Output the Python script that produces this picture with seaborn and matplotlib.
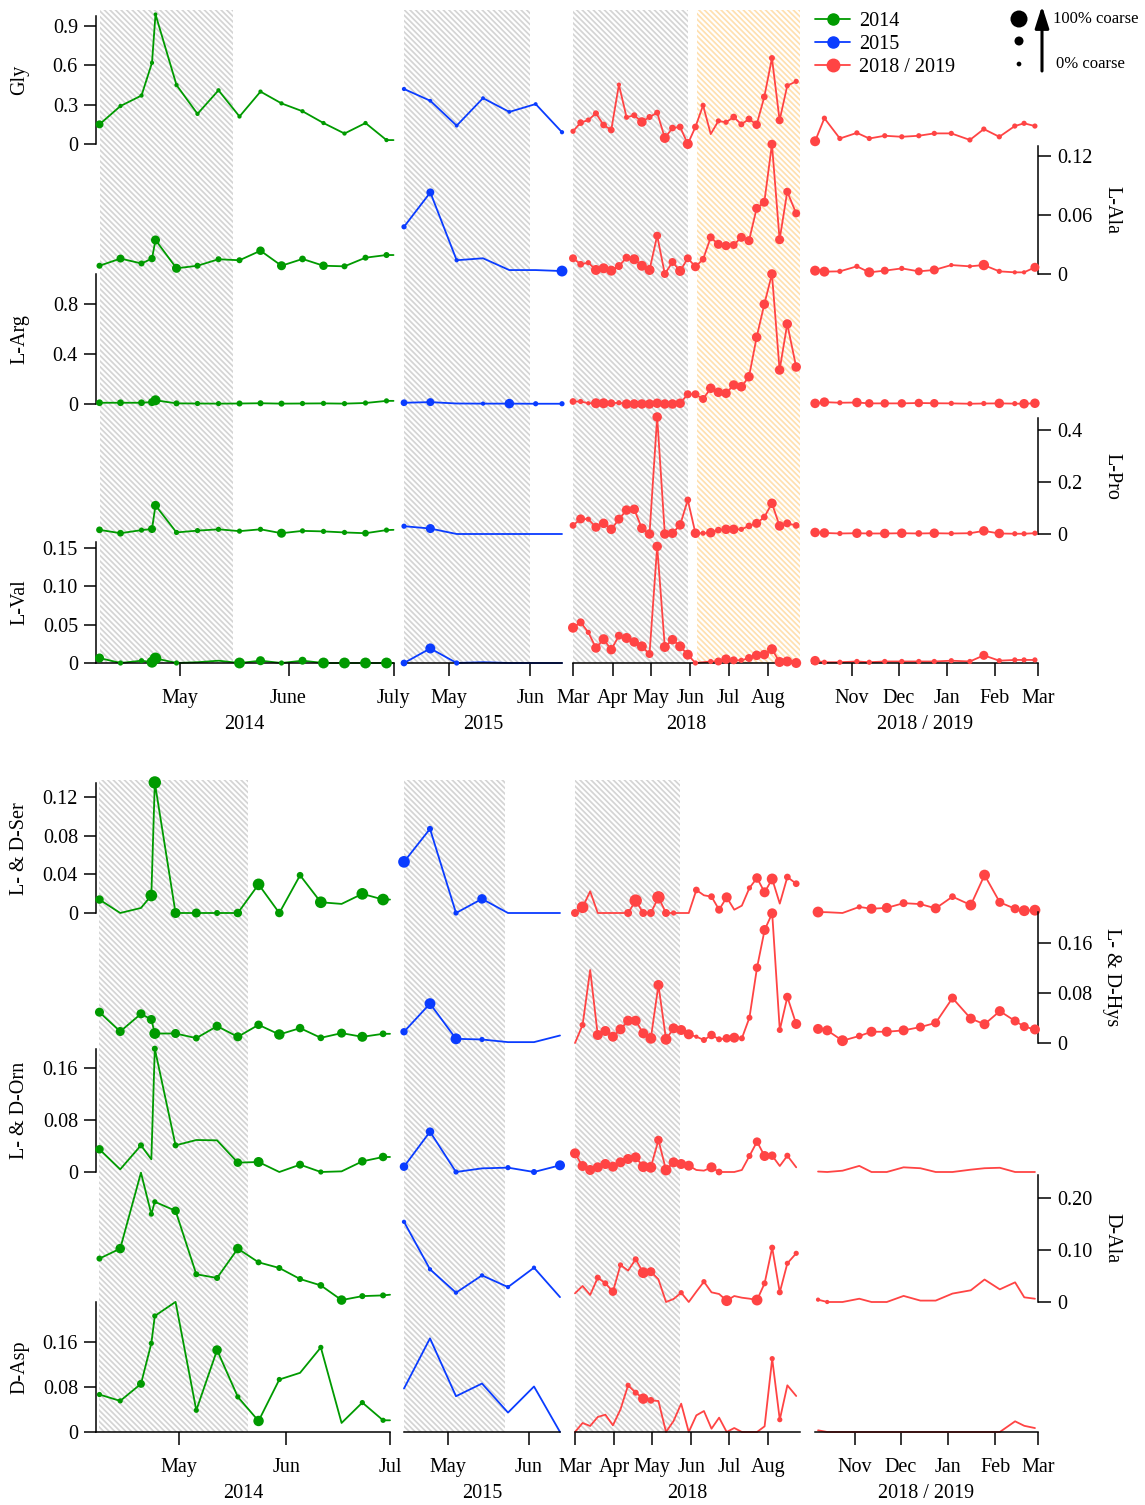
import numpy as np
import pandas as pd
import matplotlib
matplotlib.use('Agg')
import matplotlib.pyplot as plt
import matplotlib.dates as mdates
from matplotlib.lines import Line2D
import seaborn as sns

nan = np.nan

# ---------------- sampling dates ----------------
dates_14 = ['2014-04-08', '2014-04-14', '2014-04-20', '2014-04-23', '2014-04-24', '2014-04-30',
            '2014-05-06', '2014-05-12', '2014-05-18', '2014-05-24', '2014-05-30', '2014-06-05',
            '2014-06-11', '2014-06-17', '2014-06-23', '2014-06-29', '2014-07-01']
dates_15 = ['2015-04-14', '2015-04-24', '2015-05-04', '2015-05-14', '2015-05-24', '2015-06-03', '2015-06-13']
dates_18 = ['2018-03-01', '2018-03-07', '2018-03-13', '2018-03-19', '2018-03-25', '2018-03-31',
            '2018-04-06', '2018-04-12', '2018-04-18', '2018-04-24', '2018-04-30', '2018-05-06',
            '2018-05-12', '2018-05-18', '2018-05-24', '2018-05-30', '2018-06-05', '2018-06-11',
            '2018-06-17', '2018-06-23', '2018-06-29', '2018-07-05', '2018-07-11', '2018-07-17',
            '2018-07-23', '2018-07-29', '2018-08-04', '2018-08-10', '2018-08-16', '2018-08-23']
dates_19 = ['2018-10-08', '2018-10-14', '2018-10-24', '2018-11-04', '2018-11-12', '2018-11-22',
            '2018-12-03', '2018-12-14', '2018-12-24', '2019-01-04', '2019-01-16', '2019-01-25',
            '2019-02-04', '2019-02-14', '2019-02-20', '2019-02-27']

# ---------------- values (suffix c = coarse fraction, drives marker size) ----------------
gly_14 = [0.15, 0.29, 0.37, 0.62, 0.99, 0.45, 0.23, 0.41, 0.21, 0.40, 0.31, 0.25, 0.16, 0.08, 0.16, 0.03, 0.03]
gly_14c = [0.3, 0.05, 0.05, 0.05, 0.03, 0.05, 0.05, 0.05, 0.05, 0.05, 0.05, 0.05, 0.05, 0.05, 0.05, 0.05, nan]
gly_15 = [0.42, 0.33, 0.14, 0.35, 0.245, 0.305, 0.09]
gly_15c = [0.05, 0.03, 0.03, 0.03, 0.03, 0.03, 0.05]
gly_18 = [0.097, 0.163, 0.183, 0.234, 0.145, 0.107, 0.453, 0.204, 0.219, 0.168, 0.206, 0.239, 0.046, 0.122, 0.13,
          0.0, 0.13, 0.295, 0.076, 0.176, 0.166, 0.206, 0.15, 0.191, 0.147, 0.36, 0.656, 0.181, 0.445, 0.478]
gly_18c = [0.1, 0.2, 0.1, 0.15, 0.2, 0.2, 0.05, 0.1, 0.15, 0.45, 0.15, 0.15, 0.5, 0.2, 0.2,
           0.5, 0.2, 0.1, nan, 0.1, 0.1, 0.2, 0.15, 0.2, 0.35, 0.2, 0.15, 0.3, 0.1, 0.1]
gly_19 = [0.021, 0.197, 0.042, 0.085, 0.042, 0.063, 0.055, 0.063, 0.081, 0.081, 0.031, 0.114, 0.055, 0.137, 0.158, 0.137]
gly_19c = [0.5, 0.1, 0.1, 0.1, 0.1, 0.1, 0.1, 0.1, 0.1, 0.1, 0.1, 0.1, 0.1, 0.1, 0.1, 0.1]

ala_14 = [0.0084, 0.0157, 0.0107, 0.0157, 0.0346, 0.0058, 0.0084, 0.015, 0.014, 0.0237, 0.0084, 0.0153,
          0.0084, 0.0078, 0.0166, 0.0193, 0.0193]
ala_14c = [0.15, 0.3, 0.15, 0.25, 0.4, 0.4, 0.15, 0.15, 0.15, 0.35, 0.4, 0.2, 0.35, 0.15, 0.15, 0.15, nan]
ala_15 = [0.048, 0.083, 0.014, 0.016, 0.004, 0.004, 0.003]
ala_15c = [0.1, 0.3, 0.05, nan, nan, nan, 0.6]
ala_18 = [0.016, 0.0099, 0.0115, 0.0041, 0.0058, 0.0034, 0.0081, 0.0166, 0.015, 0.0084, 0.0041, 0.039, 0.0,
          0.0122, 0.0031, 0.016, 0.0074, 0.015, 0.0373, 0.0302, 0.0288, 0.0295, 0.0373, 0.0339, 0.0668, 0.073,
          0.132, 0.0349, 0.0837, 0.0617]
ala_18c = [0.3, 0.2, 0.1, 0.5, 0.5, 0.5, 0.3, 0.3, 0.5, 0.5, 0.5, 0.3, 0.3, 0.3, 0.5,
           0.3, 0.4, 0.2, 0.3, 0.4, 0.4, 0.3, 0.4, 0.4, 0.4, 0.4, 0.4, 0.4, 0.3, 0.3]
ala_19 = [0.0034, 0.0024, 0.0027, 0.0078, 0.0017, 0.0034, 0.0057, 0.0027, 0.0041, 0.0091, 0.0078, 0.0091,
          0.0027, 0.0017, 0.0017, 0.0068]
ala_19c = [0.5, 0.5, 0.1, 0.1, 0.5, 0.3, 0.1, 0.3, 0.4, 0.05, 0.05, 0.55, 0.1, 0.05, 0.05, 0.4]

arg_14 = [0.01, 0.01, 0.01, 0.015, 0.03, 0.005, 0.004, 0.003, 0.004, 0.006, 0.003, 0.004, 0.005, 0.003, 0.008, 0.025, 0.025]
arg_14c = [0.2, 0.2, 0.2, 0.3, 0.5, 0.15, 0.1, 0.1, 0.15, 0.15, 0.15, 0.1, 0.1, 0.1, 0.1, 0.1, nan]
arg_15 = [0.01, 0.015, 0.004, 0.003, 0.003, 0.002, 0.002]
arg_15c = [0.2, 0.3, nan, 0.05, 0.45, 0.1, 0.1]
arg_18 = [0.02, 0.02, 0.006, 0.006, 0.006, 0.006, 0.01, 0.0, 0.0, 0.0, 0.0, 0.006, 0.0, 0.0, 0.006,
          0.078, 0.078, 0.04, 0.126, 0.094, 0.086, 0.152, 0.138, 0.218, 0.534, 0.798, 1.04, 0.272, 0.64, 0.296]
arg_18c = [0.2, 0.1, 0.05, 0.5, 0.5, 0.3, 0.1, 0.45, 0.45, 0.45, 0.45, 0.45, 0.45, 0.45, 0.45,
           0.3, 0.3, 0.3, 0.45, 0.45, 0.45, 0.45, 0.45, 0.45, 0.45, 0.45, 0.45, 0.45, 0.45, 0.45]
arg_19 = [0.005, 0.015, 0.01, 0.012, 0.005, 0.005, 0.005, 0.008, 0.006, 0.005, 0.002, 0.004, 0.005, 0.003, 0.002, 0.006]
arg_19c = [0.45, 0.45, 0.1, 0.45, 0.35, 0.35, 0.35, 0.35, 0.35, 0.1, 0.1, 0.1, 0.45, 0.1, 0.45, 0.45]

pro_14 = [0.016, 0.003, 0.015, 0.019, 0.11, 0.006, 0.013, 0.018, 0.011, 0.018, 0.003, 0.012, 0.010, 0.006, 0.003, 0.015, 0.016]
pro_14c = [0.2, 0.2, 0.1, 0.3, 0.4, 0.1, 0.1, 0.1, 0.1, 0.1, 0.4, 0.1, 0.1, 0.1, 0.2, 0.1, nan]
pro_15 = [0.03, 0.021, 0.0, 0.0, 0.0, 0.0, 0.0]
pro_15c = [0.1, 0.4, nan, nan, nan, nan, nan]
pro_18 = [0.033, 0.058, 0.057, 0.026, 0.041, 0.018, 0.057, 0.092, 0.095, 0.022, 0.0, 0.45, 0.0, 0.003, 0.035,
          0.131, 0.003, 0.003, 0.005, 0.015, 0.018, 0.018, 0.018, 0.031, 0.041, 0.065, 0.118, 0.031, 0.041, 0.033]
pro_18c = [0.2, 0.4, 0.1, 0.4, 0.45, 0.45, 0.4, 0.45, 0.45, 0.45, 0.45, 0.45, 0.45, 0.45, 0.45,
           0.2, 0.45, 0.1, 0.45, 0.2, 0.45, 0.45, 0.1, 0.2, 0.4, 0.2, 0.45, 0.45, 0.3, 0.2]
pro_19 = [0.006, 0.004, 0.002, 0.003, 0.002, 0.002, 0.003, 0.002, 0.003, 0.002, 0.003, 0.012, 0.002, 0.001, 0.001, 0.003]
pro_19c = [0.45, 0.45, 0.1, 0.45, 0.2, 0.45, 0.45, 0.2, 0.45, 0.1, 0.1, 0.45, 0.45, 0.1, 0.1, 0.1]

val_14 = [0.0065, 0.0, 0.003, 0.001, 0.006, 0.0, 0.001, 0.003, 0.0, 0.003, 0.0, 0.003, 0.0, 0.0, 0.0, 0.0, 0.0]
val_14c = [0.4, 0.1, 0.1, 0.6, 0.7, 0.1, nan, nan, 0.6, 0.4, 0.1, 0.3, 0.6, 0.6, 0.6, 0.6, nan]
val_15 = [0.0, 0.019, 0.0, 0.001, 0.0, 0.0, 0.0]
val_15c = [0.2, 0.5, 0.1, nan, nan, nan, nan]
val_18 = [0.046, 0.053, 0.040, 0.0196, 0.031, 0.0174, 0.0356, 0.0326, 0.0274, 0.0217, 0.0117, 0.152, 0.0209,
          0.0304, 0.0217, 0.0109, 0.0, 0.001, 0.002, 0.002, 0.005, 0.0035, 0.0035, 0.0065, 0.01, 0.011, 0.018,
          0.0013, 0.002, 0.0]
val_18c = [0.5, 0.3, 0.1, 0.45, 0.5, 0.45, 0.3, 0.5, 0.45, 0.5, 0.3, 0.45, 0.5, 0.45, 0.5,
           0.5, 0.1, nan, 0.1, 0.3, 0.45, 0.3, 0.1, 0.3, 0.45, 0.45, 0.5, 0.5, 0.5, 0.5]
val_19 = [0.003, 0.001, 0.001, 0.002, 0.001, 0.002, 0.002, 0.002, 0.002, 0.003, 0.002, 0.01, 0.003, 0.004, 0.004, 0.004]
val_19c = [0.45, 0.1, 0.1, 0.1, 0.1, 0.1, 0.1, 0.1, 0.1, 0.1, 0.1, 0.4, 0.1, 0.1, 0.1, 0.1]

ser_14 = [0.0139, 0.0, 0.0052, 0.0181, 0.135, 0.0, 0.0, 0.0, 0.0, 0.0296, 0.0, 0.039, 0.0111, 0.0094, 0.0198, 0.0139, 0.0139]
ser_14c = [0.35, nan, nan, 0.7, 0.8, 0.5, 0.4, 0.15, 0.35, 0.7, 0.35, 0.2, 0.7, nan, 0.7, 0.7, nan]
ser_15 = [0.0529, 0.087, 0.0, 0.0146, 0.0, 0.0, 0.0]
ser_15c = [0.7, 0.15, 0.1, 0.45, nan, nan, nan]
ser_18 = [0.0, 0.0059, 0.0224, 0.0, 0.0, 0.0, 0.0, 0.0, 0.0128, 0.0, 0.0, 0.0162, 0.0, 0.0, 0.0,
          0.0, 0.0238, 0.0183, 0.0169, 0.0034, 0.0162, 0.0034, 0.0076, 0.0259, 0.0362, 0.0214, 0.0352, 0.0097, 0.0372, 0.0303]
ser_18c = [0.3, 0.7, nan, nan, nan, nan, nan, 0.3, 0.8, 0.3, 0.3, 0.8, 0.3, 0.1, nan,
           nan, 0.2, nan, 0.2, 0.3, 0.5, nan, nan, 0.1, 0.45, 0.5, 0.6, nan, 0.2, 0.2]
ser_19 = [0.001, 0.0008, 0.0, 0.0063, 0.0044, 0.0053, 0.0102, 0.0092, 0.0048, 0.0169, 0.0082, 0.0392, 0.011,
          0.0044, 0.0024, 0.0029]
ser_19c = [0.6, nan, nan, 0.1, 0.5, 0.5, 0.3, 0.2, 0.5, 0.2, 0.6, 0.6, 0.4, 0.4, 0.6, 0.6]

hys_14 = [0.0493, 0.0184, 0.0467, 0.0376, 0.0152, 0.0152, 0.0078, 0.0269, 0.0099, 0.0291, 0.0136, 0.0238,
          0.0083, 0.0158, 0.0099, 0.0147, 0.0147]
hys_14c = [0.4, 0.4, 0.4, 0.4, 0.6, 0.4, 0.2, 0.4, 0.4, 0.35, 0.55, 0.35, 0.2, 0.4, 0.5, 0.2, nan]
hys_15 = [0.018, 0.063, 0.0067, 0.0056, 0.0014, 0.0014, 0.012]
hys_15c = [0.25, 0.6, 0.6, 0.1, nan, nan, nan]
hys_18 = [0.0, 0.0288, 0.1168, 0.0128, 0.0192, 0.0101, 0.0219, 0.0357, 0.0357, 0.0155, 0.0075, 0.0928, 0.0059,
          0.0235, 0.0208, 0.0139, 0.0101, 0.0048, 0.0128, 0.0059, 0.0075, 0.0085, 0.0075, 0.0405, 0.1205,
          0.1808, 0.2075, 0.0208, 0.0736, 0.0304]
hys_18c = [nan, 0.15, nan, 0.5, 0.5, 0.5, 0.5, 0.5, 0.5, 0.5, 0.6, 0.5, 0.6, 0.5, 0.5,
           0.5, 0.05, 0.15, 0.35, 0.15, 0.35, 0.5, 0.15, 0.15, 0.35, 0.5, 0.5, 0.15, 0.35, 0.5]
hys_19 = [0.0225, 0.0202, 0.0037, 0.0112, 0.018, 0.018, 0.0202, 0.0255, 0.0322, 0.0719, 0.039, 0.03, 0.051,
          0.0352, 0.0262, 0.0217]
hys_19c = [0.5, 0.5, 0.6, 0.2, 0.5, 0.5, 0.5, 0.4, 0.4, 0.4, 0.5, 0.5, 0.5, 0.4, 0.4, 0.5]

orn_14 = [0.0349, 0.0041, 0.041, 0.0195, 0.1897, 0.041, 0.0492, 0.0487, 0.0144, 0.0154, 0.0, 0.0113, 0.0,
          0.001, 0.0164, 0.0231, 0.0231]
orn_14c = [0.35, nan, 0.15, nan, 0.15, 0.15, nan, nan, 0.35, 0.5, nan, 0.3, 0.1, nan, 0.35, 0.35, nan]
orn_15 = [0.0082, 0.062, 0.0, 0.0056, 0.0067, 0.0, 0.0103]
orn_15c = [0.35, 0.35, 0.1, nan, 0.1, 0.15, 0.5]
orn_18 = [0.0287, 0.0092, 0.0031, 0.0072, 0.0123, 0.0082, 0.0149, 0.0200, 0.0226, 0.0082, 0.0072, 0.0492,
          0.0031, 0.0149, 0.0123, 0.0097, 0.0031, 0.0021, 0.0072, 0.0, 0.0, 0.0, 0.0031, 0.0246, 0.0467,
          0.0246, 0.0251, 0.0092, 0.0251, 0.0072]
orn_18c = [0.5, 0.5, 0.5, 0.5, 0.5, 0.5, 0.5, 0.5, 0.5, 0.6, 0.6, 0.35, 0.6, 0.5, 0.5,
           0.5, nan, nan, 0.5, 0.2, nan, nan, nan, 0.15, 0.35, 0.5, 0.35, nan, 0.15, nan]
orn_19 = [0.0007, 0.0, 0.002, 0.0094, 0.0, 0.0, 0.0072, 0.0058, 0.0, 0.0, 0.0036, 0.0058, 0.0065, 0.0, 0.0, 0.0]
orn_19c = [nan] * 16

dala_14 = [0.0835, 0.1027, 0.2487, 0.169, 0.1927, 0.1754, 0.0533, 0.0462, 0.1027, 0.0763, 0.0654, 0.0442,
           0.0319, 0.0037, 0.0113, 0.0127, 0.014]
dala_14c = [0.15, 0.45, nan, 0.1, 0.1, 0.35, 0.15, 0.15, 0.45, 0.15, 0.15, 0.15, 0.2, 0.45, 0.15, 0.15, nan]
dala_15 = [0.1542, 0.0629, 0.0179, 0.0512, 0.0287, 0.066, 0.0094]
dala_15c = [0.05, 0.05, 0.05, 0.05, 0.05, 0.05, nan]
dala_18 = [0.0167, 0.0308, 0.0135, 0.0468, 0.0359, 0.0199, 0.0712, 0.0603, 0.0821, 0.0564, 0.0583, 0.0436,
           0.0, 0.0058, 0.0179, 0.0, 0.0199, 0.0391, 0.0186, 0.0154, 0.0026, 0.0115, 0.0083, 0.0064, 0.0038,
           0.0359, 0.1045, 0.0186, 0.0744, 0.0936]
dala_18c = [nan, nan, nan, 0.15, 0.15, 0.35, 0.1, nan, 0.15, 0.6, 0.4, nan, nan, nan, 0.1,
            nan, nan, 0.1, nan, nan, 0.6, nan, nan, nan, 0.6, 0.15, 0.15, 0.15, 0.1, 0.1]
dala_19 = [0.0045, 0.0, 0.0, 0.0063, 0.0, 0.0, 0.0117, 0.0027, 0.0027, 0.0162, 0.0225, 0.0432, 0.0243, 0.0378, 0.009, 0.0063]
dala_19c = [0.05, 0.05, nan, nan, nan, nan, nan, nan, nan, nan, nan, nan, nan, nan, nan, nan]

asp_14 = [0.0666, 0.0553, 0.0856, 0.1576, 0.2063, 0.2313, 0.0386, 0.1457, 0.0624, 0.0196, 0.0933, 0.1052,
          0.1504, 0.0161, 0.0523, 0.0208, 0.0208]
asp_14c = [0.1, 0.1, 0.3, 0.1, 0.1, nan, 0.1, 0.45, 0.1, 0.55, 0.1, nan, 0.1, nan, 0.1, 0.1, nan]
asp_15 = [0.0773, 0.1665, 0.0636, 0.0862, 0.0345, 0.0809, 0.0]
asp_15c = [nan] * 7
asp_18 = [0.0, 0.016, 0.0107, 0.0267, 0.0308, 0.0119, 0.0403, 0.083, 0.0699, 0.0593, 0.0563, 0.0551, 0.0,
          0.0196, 0.0504, 0.0, 0.0296, 0.0373, 0.0059, 0.0255, 0.0, 0.0071, 0.0, 0.0, 0.0, 0.0101, 0.1304,
          0.0219, 0.083, 0.064]
asp_18c = [nan, nan, nan, nan, nan, nan, nan, 0.1, 0.15, 0.55, 0.2, nan, nan, nan, nan,
           nan, nan, nan, nan, nan, nan, nan, nan, nan, nan, nan, 0.1, 0.1, nan, nan]
asp_19 = [0.003, 0.0, 0.0, 0.0, 0.0, 0.0, 0.0, 0.0, 0.0, 0.0, 0.0, 0.0, 0.0, 0.019, 0.011, 0.007]
asp_19c = [nan] * 16

series_labels = ['2014', '2015', '2018 / 2019']
year_labels = ['2014', '2015', '2018', '2018 / 2019']
col_limits = [('2014-04-07', '2014-07-01'), ('2015-04-14', '2015-06-13'),
              ('2018-03-01', '2018-08-26'), ('2018-10-06', '2019-03-01')]
col_ticks = [['2014-05-01', '2014-06-01', '2014-07-01'], ['2015-05-01', '2015-06-01'],
             ['2018-03-01', '2018-04-01', '2018-05-01', '2018-06-01', '2018-07-01', '2018-08-01'],
             ['2018-11-01', '2018-12-01', '2019-01-01', '2019-02-01', '2019-03-01']]
ticklabels_top = [['May', 'June', 'July'], ['May', 'Jun'], ['Mar', 'Apr', 'May', 'Jun', 'Jul', 'Aug'],
                  ['Nov', 'Dec', 'Jan', 'Feb', 'Mar']]
ticklabels_bot = [['May', 'Jun', 'Jul'], ['May', 'Jun'], ['Mar', 'Apr', 'May', 'Jun', 'Jul', 'Aug'],
                  ['Nov', 'Dec', 'Jan', 'Feb', 'Mar']]
spans_top = [[('2014-04-08', '2014-05-16', 'gray')], [('2015-04-14', '2015-06-01', 'gray')],
             [('2018-02-27', '2018-05-30', 'gray'), ('2018-06-06', '2018-08-28', 'orange')], []]
spans_bot = [[('2014-04-08', '2014-05-21', 'gray')], [('2015-04-14', '2015-05-23', 'gray')],
             [('2018-03-01', '2018-05-23', 'gray')], []]

# ---------------- style ----------------
sns.set_theme(style='white')
plt.rcParams['font.family'] = ['Liberation Serif', 'DejaVu Serif']
plt.rcParams.update({'axes.edgecolor': 'black', 'xtick.color': 'black', 'ytick.color': 'black',
                     'text.color': 'black', 'axes.labelcolor': 'black', 'hatch.linewidth': 1.25,
                     'axes.linewidth': 1.1})

W, H = 1145, 1505
fig = plt.figure(figsize=(W / 100, H / 100), dpi=100)
FS = 14.5
C14, C15, C18 = '#009a00', '#0a3cff', '#ff4444'
col_colors = [C14, C15, C18, C18]
col_dates = [dates_14, dates_15, dates_18, dates_19]
HATCH = {'gray': '#d4d4d4', 'orange': '#ffe0b0'}
SIZES = (4.7, 99)


def px_axes(x0, x1, ytop, ybot):
    return fig.add_axes([x0 / W, 1 - ybot / H, (x1 - x0) / W, (ybot - ytop) / H])


def dn(s):
    return mdates.date2num(pd.Timestamp(s))


rows_top = [
    ('Gly', 'left', 144, 131.0, 0.98, [0, 0.3, 0.6, 0.9], ['0', '0.3', '0.6', '0.9'],
     [gly_14, gly_15, gly_18, gly_19], [gly_14c, gly_15c, gly_18c, gly_19c]),
    ('L-Ala', 'right', 274, 983.0, 0.13, [0, 0.06, 0.12], ['0', '0.06', '0.12'],
     [ala_14, ala_15, ala_18, ala_19], [ala_14c, ala_15c, ala_18c, ala_19c]),
    ('L-Arg', 'left', 404, 125.0, 1.04, [0, 0.4, 0.8], ['0', '0.4', '0.8'],
     [arg_14, arg_15, arg_18, arg_19], [arg_14c, arg_15c, arg_18c, arg_19c]),
    ('L-Pro', 'right', 534, 260.0, 0.445, [0, 0.2, 0.4], ['0', '0.2', '0.4'],
     [pro_14, pro_15, pro_18, pro_19], [pro_14c, pro_15c, pro_18c, pro_19c]),
    ('L-Val', 'left', 663, 767.0, 0.158, [0, 0.05, 0.10, 0.15], ['0', '0.05', '0.10', '0.15'],
     [val_14, val_15, val_18, val_19], [val_14c, val_15c, val_18c, val_19c]),
]
rows_bot = [
    ('L- & D-Ser', 'left', 913, 967.0, 0.134, [0, 0.04, 0.08, 0.12], ['0', '0.04', '0.08', '0.12'],
     [ser_14, ser_15, ser_18, ser_19], [ser_14c, ser_15c, ser_18c, ser_19c]),
    ('L- & D-Hys', 'right', 1043, 625.0, 0.21, [0, 0.08, 0.16], ['0', '0.08', '0.16'],
     [hys_14, hys_15, hys_18, hys_19], [hys_14c, hys_15c, hys_18c, hys_19c]),
    ('L- & D-Orn', 'left', 1172, 650.0, 0.19, [0, 0.08, 0.16], ['0', '0.08', '0.16'],
     [orn_14, orn_15, orn_18, orn_19], [orn_14c, orn_15c, orn_18c, orn_19c]),
    ('D-Ala', 'right', 1302, 520.0, 0.245, [0, 0.10, 0.20], ['0', '0.10', '0.20'],
     [dala_14, dala_15, dala_18, dala_19], [dala_14c, dala_15c, dala_18c, dala_19c]),
    ('D-Asp', 'left', 1432, 562.5, 0.231, [0, 0.08, 0.16], ['0', '0.08', '0.16'],
     [asp_14, asp_15, asp_18, asp_19], [asp_14c, asp_15c, asp_18c, asp_19c]),
]

blocks = [
    dict(xpix=[(96, 393.5), (404, 562), (573, 800), (812, 1038)], ytop=10, ybot=663,
         spans=spans_top, rows=rows_top, ticklabels=ticklabels_top, year_y=725),
    dict(xpix=[(96, 390), (404, 560), (575, 800), (815, 1038)], ytop=780, ybot=1432,
         spans=spans_bot, rows=rows_bot, ticklabels=ticklabels_bot, year_y=1494),
]

for block in blocks:
    # hatched season backgrounds
    for ci, (x0, x1) in enumerate(block['xpix']):
        bg = px_axes(x0, x1, block['ytop'], block['ybot'])
        bg.set_xlim(dn(col_limits[ci][0]), dn(col_limits[ci][1]))
        bg.set_ylim(0, 1)
        bg.axis('off')
        for s0, s1, kind in block['spans'][ci]:
            bg.axvspan(dn(s0), dn(s1), facecolor='white', edgecolor=HATCH[kind],
                       hatch='\\\\\\\\\\\\', linewidth=0)
        fig.text(((x0 + x1) / 2) / W, 1 - block['year_y'] / H, year_labels[ci],
                 ha='center', va='center', fontsize=FS)

    nrows = len(block['rows'])
    for ri, (label, side, zero, scale, ymax, yt, ytl, vals, coarse) in enumerate(block['rows']):
        ytop = zero - ymax * scale
        last = ri == nrows - 1
        for ci, (x0, x1) in enumerate(block['xpix']):
            ax = px_axes(x0, x1, ytop, zero)
            ax.patch.set_visible(False)
            x = np.array([dn(d) for d in col_dates[ci]])
            y = np.array(vals[ci], dtype=float)
            c = np.array(coarse[ci], dtype=float)
            sns.lineplot(x=x, y=y, ax=ax, color=col_colors[ci], linewidth=1.3,
                         estimator=None, sort=False)
            m = ~np.isnan(c)
            if m.any():
                sns.scatterplot(x=x[m], y=y[m], size=c[m], sizes=SIZES, size_norm=(0, 1),
                                color=col_colors[ci], linewidth=0, legend=False, ax=ax, zorder=3)
            for art in list(ax.lines) + list(ax.collections):
                art.set_clip_on(False)
            ax.set_xlim(dn(col_limits[ci][0]), dn(col_limits[ci][1]))
            ax.set_ylim(0, ymax)
            ax.set_xlabel('')
            ax.set_ylabel('')
            ax.grid(False)
            for sp in ax.spines.values():
                sp.set_visible(False)
            ax.tick_params(left=False, right=False, top=False, bottom=False,
                           labelleft=False, labelright=False, labelbottom=False, labeltop=False)
            if side == 'left' and ci == 0:
                ax.spines['left'].set_visible(True)
                ax.set_yticks(yt)
                ax.set_yticklabels(ytl)
                ax.tick_params(axis='y', left=True, labelleft=True, direction='out',
                               length=9, width=1.1, pad=4, labelsize=FS)
                fig.text(20 / W, 1 - ((ytop + zero) / 2) / H, label, rotation=90,
                         ha='center', va='center', fontsize=FS)
            if side == 'right' and ci == 3:
                ax.spines['right'].set_visible(True)
                ax.yaxis.tick_right()
                ax.set_yticks(yt)
                ax.set_yticklabels(ytl)
                ax.tick_params(axis='y', right=True, labelright=True, left=False, labelleft=False,
                               direction='out', length=9, width=1.1, pad=5, labelsize=FS)
                fig.text(1112 / W, 1 - ((ytop + zero) / 2) / H, label, rotation=270,
                         ha='center', va='center', fontsize=FS)
            if last:
                ax.spines['bottom'].set_visible(True)
                ax.set_xticks([dn(t) for t in col_ticks[ci]])
                ax.set_xticklabels(block['ticklabels'][ci])
                ax.tick_params(axis='x', bottom=True, labelbottom=True, direction='out',
                               length=9, width=1.1, pad=10, labelsize=FS)

# ---------------- legends ----------------
handles = [Line2D([], [], color=C14, marker='o', markersize=8, lw=1.3),
           Line2D([], [], color=C15, marker='o', markersize=8, lw=1.3),
           Line2D([], [], color=C18, marker='o', markersize=9, lw=1.3)]
fig.legend(handles, series_labels, loc='upper left', bbox_to_anchor=(815 / W, 1 - 12 / H),
           frameon=False, fontsize=FS, handlelength=1.75, handletextpad=0.45,
           labelspacing=0.2, borderpad=0, borderaxespad=0)

lg = px_axes(1000, 1145, 0, 80)
lg.set_xlim(1000, 1145)
lg.set_ylim(80, 0)
lg.axis('off')
sns.scatterplot(x=[1019, 1019, 1019], y=[19, 41, 64], size=[1.0, 0.22, 0.0], sizes=(11.5, 150),
                size_norm=(0, 1), color='black', linewidth=0, legend=False, ax=lg)
lg.set_xlim(1000, 1145)
lg.set_ylim(80, 0)
lg.annotate('', xy=(1042, 6), xytext=(1042, 71),
            arrowprops=dict(arrowstyle='-|>,head_width=0.35,head_length=1.1', lw=2.2,
                            color='black', mutation_scale=12, shrinkA=0, shrinkB=0))
lg.text(1053, 19, '100% coarse', fontsize=12, va='center', ha='left')
lg.text(1056, 64, '0% coarse', fontsize=12, va='center', ha='left')

fig.savefig('out.png', dpi=100)
